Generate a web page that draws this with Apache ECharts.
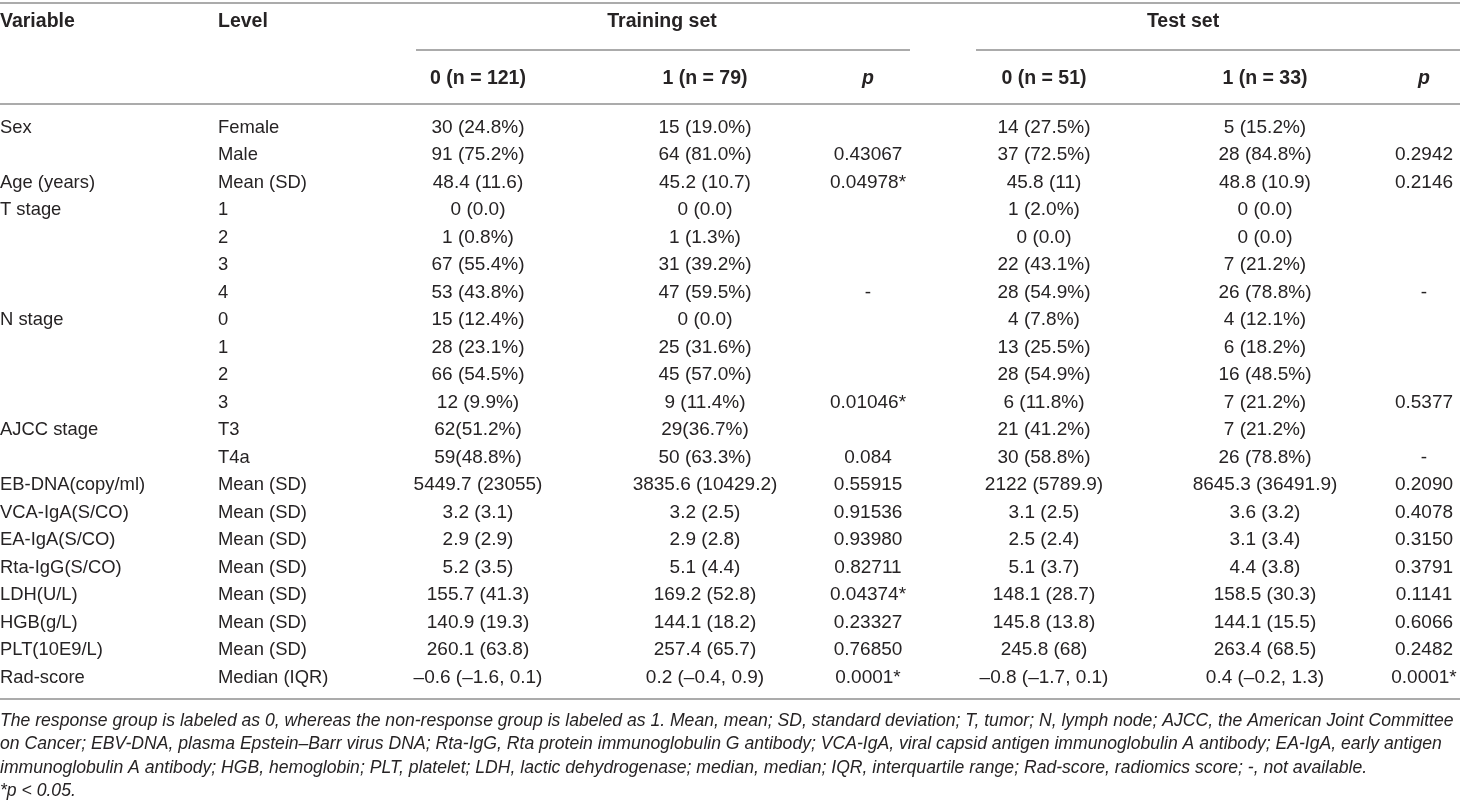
<!DOCTYPE html>
<html lang="en">
<head>
  <meta charset="UTF-8">
  <title>Baseline characteristics table</title>
  <style>
    * { margin: 0; padding: 0; box-sizing: border-box; }
    body { background-color: #fff; width: 1460px; height: 808px; overflow: hidden; }
    .chart { width: 1460px; height: 808px; }
  </style>
</head>
<body>
  <div id="chart" class="chart"></div>
  <script src="https://cdn.jsdelivr.net/npm/echarts@6/dist/echarts.min.js"></script>
  <script>
    // table contents
    const variables = ['Sex', '', 'Age (years)', 'T stage', '', '', '', 'N stage', '', '', '', 'AJCC stage', '',
      'EB-DNA(copy/ml)', 'VCA-IgA(S/CO)', 'EA-IgA(S/CO)', 'Rta-IgG(S/CO)', 'LDH(U/L)', 'HGB(g/L)', 'PLT(10E9/L)', 'Rad-score']
    const levels = ['Female', 'Male', 'Mean (SD)', '1', '2', '3', '4', '0', '1', '2', '3', 'T3', 'T4a',
      'Mean (SD)', 'Mean (SD)', 'Mean (SD)', 'Mean (SD)', 'Mean (SD)', 'Mean (SD)', 'Mean (SD)', 'Median (IQR)']
    const train0 = ['30 (24.8%)', '91 (75.2%)', '48.4 (11.6)', '0 (0.0)', '1 (0.8%)', '67 (55.4%)', '53 (43.8%)',
      '15 (12.4%)', '28 (23.1%)', '66 (54.5%)', '12 (9.9%)', '62(51.2%)', '59(48.8%)', '5449.7 (23055)',
      '3.2 (3.1)', '2.9 (2.9)', '5.2 (3.5)', '155.7 (41.3)', '140.9 (19.3)', '260.1 (63.8)', '\u20130.6 (\u20131.6, 0.1)']
    const train1 = ['15 (19.0%)', '64 (81.0%)', '45.2 (10.7)', '0 (0.0)', '1 (1.3%)', '31 (39.2%)', '47 (59.5%)',
      '0 (0.0)', '25 (31.6%)', '45 (57.0%)', '9 (11.4%)', '29(36.7%)', '50 (63.3%)', '3835.6 (10429.2)',
      '3.2 (2.5)', '2.9 (2.8)', '5.1 (4.4)', '169.2 (52.8)', '144.1 (18.2)', '257.4 (65.7)', '0.2 (\u20130.4, 0.9)']
    const trainP = ['', '0.43067', '0.04978*', '', '', '', '-', '', '', '', '0.01046*', '', '0.084', '0.55915',
      '0.91536', '0.93980', '0.82711', '0.04374*', '0.23327', '0.76850', '0.0001*']
    const test0 = ['14 (27.5%)', '37 (72.5%)', '45.8 (11)', '1 (2.0%)', '0 (0.0)', '22 (43.1%)', '28 (54.9%)',
      '4 (7.8%)', '13 (25.5%)', '28 (54.9%)', '6 (11.8%)', '21 (41.2%)', '30 (58.8%)', '2122 (5789.9)',
      '3.1 (2.5)', '2.5 (2.4)', '5.1 (3.7)', '148.1 (28.7)', '145.8 (13.8)', '245.8 (68)', '\u20130.8 (\u20131.7, 0.1)']
    const test1 = ['5 (15.2%)', '28 (84.8%)', '48.8 (10.9)', '0 (0.0)', '0 (0.0)', '7 (21.2%)', '26 (78.8%)',
      '4 (12.1%)', '6 (18.2%)', '16 (48.5%)', '7 (21.2%)', '7 (21.2%)', '26 (78.8%)', '8645.3 (36491.9)',
      '3.6 (3.2)', '3.1 (3.4)', '4.4 (3.8)', '158.5 (30.3)', '144.1 (15.5)', '263.4 (68.5)', '0.4 (\u20130.2, 1.3)']
    const testP = ['', '0.2942', '0.2146', '', '', '', '-', '', '', '', '0.5377', '', '-', '0.2090',
      '0.4078', '0.3150', '0.3791', '0.1141', '0.6066', '0.2482', '0.0001*']
    const groupHeaders = ['Training set', 'Test set']
    const subHeaders = ['0 (n = 121)', '1 (n = 79)', 'p', '0 (n = 51)', '1 (n = 33)', 'p']
    const footnotes = [
      'The response group is labeled as 0, whereas the non-response group is labeled as 1. Mean, mean; SD, standard deviation; T, tumor; N, lymph node; AJCC, the American Joint Committee',
      'on Cancer; EBV-DNA, plasma Epstein\u2013Barr virus DNA; Rta-IgG, Rta protein immunoglobulin G antibody; VCA-IgA, viral capsid antigen immunoglobulin A antibody; EA-IgA, early antigen',
      'immunoglobulin A antibody; HGB, hemoglobin; PLT, platelet; LDH, lactic dehydrogenase; median, median; IQR, interquartile range; Rad-score, radiomics score; -, not available.',
      '*p < 0.05.'
    ]

    // layout
    const FONT = '"Liberation Sans", Arial, sans-serif'
    const INK = '#262324'
    const RULE = '#8f8f8f'
    const colX = [478, 705, 868, 1044, 1265, 1424]
    const groupX = [662, 1183]
    const rowTop = 127.5
    const rowStep = 27.5
    const TEXT_SIZE = 18.4
    const NUM_SIZE = 19
    const HEAD_SIZE = 19.5

    const cells = []
    function add(x, y, text, align, weight, style, size) {
      cells.push({ value: [x, y], text: text, align: align, weight: weight || 'normal', fstyle: style || 'normal', size: size || TEXT_SIZE })
    }
    add(0, 21.5, 'Variable', 'left', 'bold', 'normal', HEAD_SIZE)
    add(218, 21.5, 'Level', 'left', 'bold', 'normal', HEAD_SIZE)
    groupHeaders.forEach((t, i) => add(groupX[i], 21.5, t, 'center', 'bold', 'normal', HEAD_SIZE))
    subHeaders.forEach((t, i) => add(colX[i], 78.5, t, 'center', 'bold', t === 'p' ? 'italic' : 'normal', HEAD_SIZE))
    const bodyCols = [train0, train1, trainP, test0, test1, testP]
    variables.forEach((v, r) => {
      const y = rowTop + r * rowStep
      add(0, y, v, 'left')
      add(218, y, levels[r], 'left')
      bodyCols.forEach((col, c) => add(colX[c], y, col[r], 'center', 'normal', 'normal', NUM_SIZE))
    })
    footnotes.forEach((t, i) => add(0, 721 + i * 23.3, t, 'left', 'normal', 'italic', 17.6))

    const rules = [
      { value: [0, 3], x2: 1460, w: 1.5 },
      { value: [416, 50], x2: 910, w: 1.5 },
      { value: [976, 50], x2: 1460, w: 1.5 },
      { value: [0, 104], x2: 1460, w: 1.5 },
      { value: [0, 699], x2: 1460, w: 1.5 }
    ]

    const chart = echarts.init(document.querySelector('#chart'))
    const options = {
      animation: false,
      grid: { left: 0, right: 0, top: 0, bottom: 0 },
      xAxis: { type: 'value', min: 0, max: 1460, show: false },
      yAxis: { type: 'value', min: 0, max: 808, inverse: true, show: false },
      series: [
        {
          type: 'custom',
          silent: true,
          data: rules,
          renderItem: function (params, api) {
            const r = rules[params.dataIndex]
            const p1 = api.coord([r.value[0], r.value[1]])
            const p2 = api.coord([r.x2, r.value[1]])
            return {
              type: 'line',
              shape: { x1: p1[0], y1: p1[1], x2: p2[0], y2: p2[1] },
              style: { stroke: RULE, lineWidth: r.w }
            }
          }
        },
        {
          type: 'custom',
          silent: true,
          data: cells,
          renderItem: function (params, api) {
            const c = cells[params.dataIndex]
            const p = api.coord(c.value)
            return {
              type: 'text',
              x: p[0],
              y: p[1],
              style: {
                text: c.text,
                fill: INK,
                align: c.align,
                verticalAlign: 'middle',
                fontFamily: FONT,
                fontSize: c.size,
                fontWeight: c.weight,
                fontStyle: c.fstyle
              }
            }
          }
        }
      ]
    }
    chart.setOption(options)
  </script>
</body>
</html>
